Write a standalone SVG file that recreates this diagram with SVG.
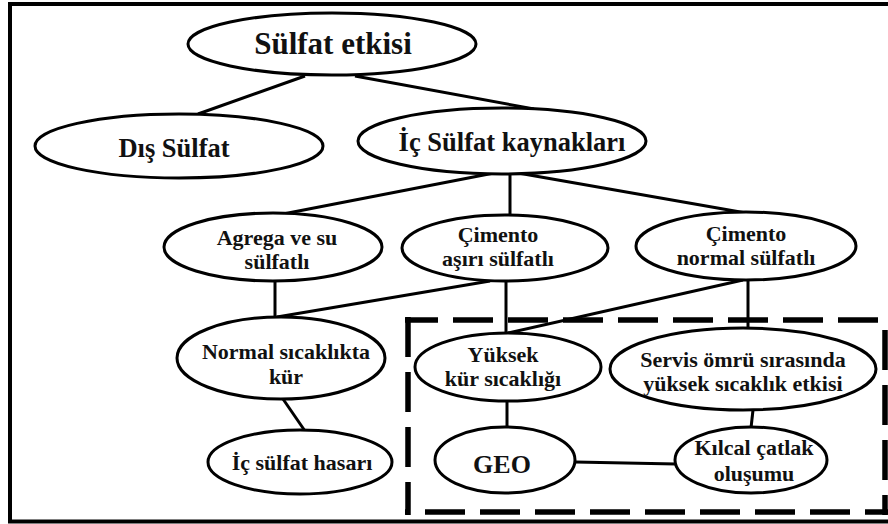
<svg xmlns="http://www.w3.org/2000/svg" width="888" height="524" viewBox="0 0 888 524">
<style>
  .node ellipse { fill: #fff; stroke: #000; stroke-width: 3; }
  text { font-family: "Liberation Serif", "Times New Roman", serif; font-weight: 700; fill: #111; text-anchor: middle; }
  .t22 { font-size: 22px; }
  .conn line { stroke: #000; stroke-width: 3; }
  .dash { stroke: #000; stroke-width: 5.5; stroke-dasharray: 40 15; fill: none; }
</style>
<rect x="0" y="0" width="888" height="524" fill="#fff"/>
<rect id="frame" x="10" y="4" width="900" height="517.5" fill="none" stroke="#000" stroke-width="4"/>
<g id="dashed-box">
  <line class="dash" x1="405" y1="320" x2="888" y2="320" stroke-dashoffset="7"/>
  <line class="dash" x1="408" y1="317" x2="408" y2="515" stroke-dashoffset="0"/>
  <line class="dash" x1="885" y1="320" x2="885" y2="515" stroke-dashoffset="45"/>
  <line class="dash" x1="405" y1="512" x2="888" y2="512" stroke-dashoffset="35"/>
</g>
<g id="connectors" class="conn">
  <line x1="305" y1="76" x2="198" y2="114"/>
  <line x1="355" y1="76" x2="534" y2="109"/>
  <line x1="494" y1="173" x2="283" y2="214"/>
  <line x1="510" y1="173" x2="510" y2="215"/>
  <line x1="518" y1="173" x2="746" y2="213"/>
  <line x1="275" y1="281" x2="275" y2="317"/>
  <line x1="490" y1="281" x2="277" y2="317"/>
  <line x1="506" y1="281" x2="506" y2="333"/>
  <line x1="743" y1="280" x2="508" y2="333"/>
  <line x1="748" y1="280" x2="748" y2="329"/>
  <line x1="283" y1="399" x2="305" y2="431"/>
  <line x1="507" y1="400" x2="507" y2="428"/>
  <line x1="753" y1="410" x2="751" y2="428"/>
  <line x1="575" y1="462" x2="676" y2="464"/>
</g>
<g id="n-sulfat-etkisi" class="node">
  <ellipse cx="332" cy="44" rx="144" ry="31"/>
  <text x="333" y="54" style="font-size:31px">Sülfat etkisi</text>
</g>
<g id="n-dis-sulfat" class="node">
  <ellipse cx="179" cy="146" rx="144" ry="32"/>
  <text x="174" y="157" style="font-size:26.5px">Dış Sülfat</text>
</g>
<g id="n-ic-sulfat-kaynaklari" class="node">
  <ellipse cx="502" cy="141" rx="144" ry="33"/>
  <text x="512" y="151" style="font-size:26.5px">İç Sülfat kaynakları</text>
</g>
<g id="n-agrega" class="node">
  <ellipse cx="273" cy="247" rx="109" ry="34"/>
  <text class="t22" x="277" y="245">Agrega ve su</text>
  <text class="t22" x="277" y="269">sülfatlı</text>
</g>
<g id="n-cimento-asiri" class="node">
  <ellipse cx="505" cy="248" rx="103" ry="33"/>
  <text class="t22" x="498" y="242">Çimento</text>
  <text class="t22" x="498" y="266">aşırı sülfatlı</text>
</g>
<g id="n-cimento-normal" class="node">
  <ellipse cx="746" cy="246" rx="110" ry="34"/>
  <text class="t22" x="746" y="241">Çimento</text>
  <text class="t22" x="746" y="265">normal sülfatlı</text>
</g>
<g id="n-normal-sicaklik" class="node">
  <ellipse cx="281" cy="358" rx="104" ry="41"/>
  <text class="t22" x="286" y="359">Normal sıcaklıkta</text>
  <text class="t22" x="286" y="384">kür</text>
</g>
<g id="n-ic-sulfat-hasari" class="node">
  <ellipse cx="300" cy="462" rx="92" ry="32"/>
  <text class="t22" x="302" y="470">İç sülfat hasarı</text>
</g>
<g id="n-yuksek-kur" class="node">
  <ellipse cx="508" cy="367" rx="93" ry="34"/>
  <text class="t22" x="503" y="362">Yüksek</text>
  <text class="t22" x="503" y="386">kür sıcaklığı</text>
</g>
<g id="n-servis-omru" class="node">
  <ellipse cx="743" cy="369" rx="133" ry="41"/>
  <text class="t22" x="743" y="367">Servis ömrü sırasında</text>
  <text class="t22" x="743" y="391">yüksek sıcaklık etkisi</text>
</g>
<g id="n-geo" class="node">
  <ellipse cx="505" cy="460" rx="70" ry="33"/>
  <text x="502" y="473" style="font-size:26px">GEO</text>
</g>
<g id="n-kilcal" class="node">
  <ellipse cx="751" cy="460" rx="76" ry="33"/>
  <text class="t22" x="754" y="455">Kılcal çatlak</text>
  <text class="t22" x="754" y="481">oluşumu</text>
</g>
</svg>
